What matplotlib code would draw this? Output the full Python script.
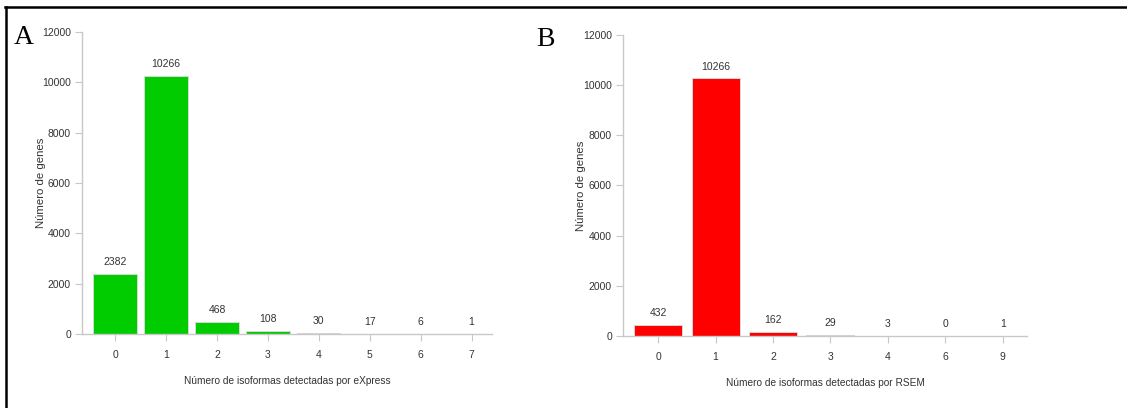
import matplotlib
matplotlib.use("Agg")
import matplotlib.pyplot as plt
from matplotlib.lines import Line2D

# data
express_cats = ['0', '1', '2', '3', '4', '5', '6', '7']
express_counts = [2382, 10266, 468, 108, 30, 17, 6, 1]
rsem_cats = ['0', '1', '2', '3', '4', '6', '9']
rsem_counts = [432, 10266, 162, 29, 3, 0, 1]
y_ticks = [0, 2000, 4000, 6000, 8000, 10000, 12000]

W, H = 1127, 408
plt.rcParams['font.family'] = ['Liberation Sans', 'DejaVu Sans']
fig = plt.figure(figsize=(W / 100, H / 100), dpi=100)
fig.patch.set_facecolor('white')

txt = '#333333'
axcol = '#c8c8c8'


def px_axes(left, right, top, bottom):
    """axes from pixel edges (top/bottom measured from image top)"""
    return fig.add_axes([left / W, 1 - bottom / H,
                         (right - left) / W, (bottom - top) / H])


def panel(ax, cats, counts, color, width, xlim, xlabel, ylab_dx):
    xs = list(range(len(cats)))
    ax.bar(xs, counts, width=width, color=color,
           edgecolor='#d8d8d8', linewidth=0.7, zorder=2)
    for x, v in zip(xs, counts):
        ax.annotate(str(v), (x, v), xytext=(0, 5), textcoords='offset points',
                    ha='center', va='bottom', fontsize=7.5, color=txt)
    ax.set_xlim(*xlim)
    ax.set_ylim(0, 12000)
    ax.set_yticks(y_ticks)
    ax.set_yticklabels([str(t) for t in y_ticks])
    ax.set_xticks(xs)
    ax.set_xticklabels(cats)
    for s in ['top', 'right']:
        ax.spines[s].set_visible(False)
    for s in ['left', 'bottom']:
        ax.spines[s].set_color(axcol)
        ax.spines[s].set_linewidth(1.0)
    ax.tick_params(axis='both', colors=axcol, labelcolor=txt,
                   labelsize=7.5, length=5, width=0.8)
    ax.tick_params(axis='x', pad=6.5)
    ax.tick_params(axis='y', pad=3)
    ax.set_xlabel(xlabel, fontsize=7.3, color=txt, labelpad=11.5)
    ax.set_ylabel('Número de genes', fontsize=8.2, color=txt)
    # y label sits a fixed number of pixels left of the axis line
    bbox = ax.get_position()
    ax.yaxis.set_label_coords(-ylab_dx / (bbox.width * W), 0.5)
    ax.patch.set_alpha(0)


axA = px_axes(82, 492, 32, 334)
panel(axA, express_cats, express_counts, '#00cc00', 0.85, (-0.65, 7.4),
      'Número de isoformas detectadas por eXpress', 36)

axB = px_axes(623, 1027, 35, 336)
panel(axB, rsem_cats, rsem_counts, '#ff0000', 0.835, (-0.61, 6.42),
      'Número de isoformas detectadas por RSEM', 37)

# panel letters
fig.text(14 / W, 1 - 38 / H, 'A', family=['Liberation Serif', 'DejaVu Serif'],
         fontsize=20, va='center', ha='left', color='black')
fig.text(536 / W, 1 - 40 / H, 'B', family=['Liberation Serif', 'DejaVu Serif'],
         fontsize=20, va='center', ha='left', color='black')

# frame lines along top and left edge
fig.add_artist(Line2D([5 / W, 1], [1 - 6.5 / H, 1 - 6.5 / H],
                      color='black', linewidth=1.8, transform=fig.transFigure))
fig.add_artist(Line2D([6 / W, 6 / W], [0, 1 - 6.5 / H],
                      color='black', linewidth=1.8, transform=fig.transFigure))

fig.savefig('out.png', dpi=100)
